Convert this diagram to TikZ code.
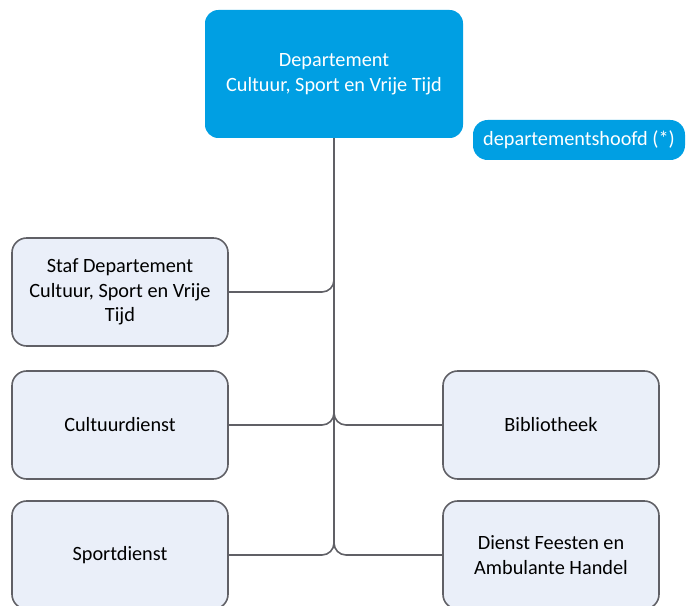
\documentclass[tikz,border=0pt]{standalone}
\usepackage{fontspec}
\setmainfont{Carlito}
\definecolor{deptblue}{HTML}{009FE3}
\definecolor{boxfill}{HTML}{EAEFF9}
\definecolor{boxline}{HTML}{606066}
\tikzset{
    headbox/.style={fill=deptblue, text=white, rounded corners=10pt, align=center},
    dienstbox/.style={draw=boxline, line width=1.2pt, fill=boxfill, rounded corners=11pt,
        minimum width=162pt, minimum height=81pt, align=center},
    tak/.style={draw=boxline, line width=1.2pt, rounded corners=9pt}
}
\begin{document}
\begin{tikzpicture}[x=0.75pt, y=-0.75pt, font=\fontsize{15.2}{18.5}\selectfont]
    \useasboundingbox (0, 0) rectangle (686, 606); % page size of the reference
    \clip (0, 0) rectangle (686, 606);
    \node[headbox, minimum width=193.5pt, minimum height=96pt] (dept) at (334, 74)
        {Departement\\Cultuur, Sport en Vrije Tijd};
    \node[headbox, minimum width=159pt, minimum height=30pt, rounded corners=11pt] (hoofd) at (579, 140)
        {departementshoofd (*)};
    \node[dienstbox] (staf) at (120, 292) {Staf Departement\\Cultuur, Sport en Vrije\\Tijd};
    \node[dienstbox] (cultuur) at (120, 425) {Cultuurdienst};
    \node[dienstbox] (sport) at (120, 555) {Sportdienst};
    \node[dienstbox] (biblio) at (551, 425) {Bibliotheek};
    \node[dienstbox] (feesten) at (551, 555) {Dienst Feesten en\\Ambulante Handel};
    \foreach \d in {staf, cultuur, sport} {
            \path[tak] (dept.south) |- (\d.east); % branch to the left
        }
    \foreach \d in {biblio, feesten} {
            \path[tak] (dept.south) |- (\d.west); % branch to the right
        }
\end{tikzpicture}
\end{document}
